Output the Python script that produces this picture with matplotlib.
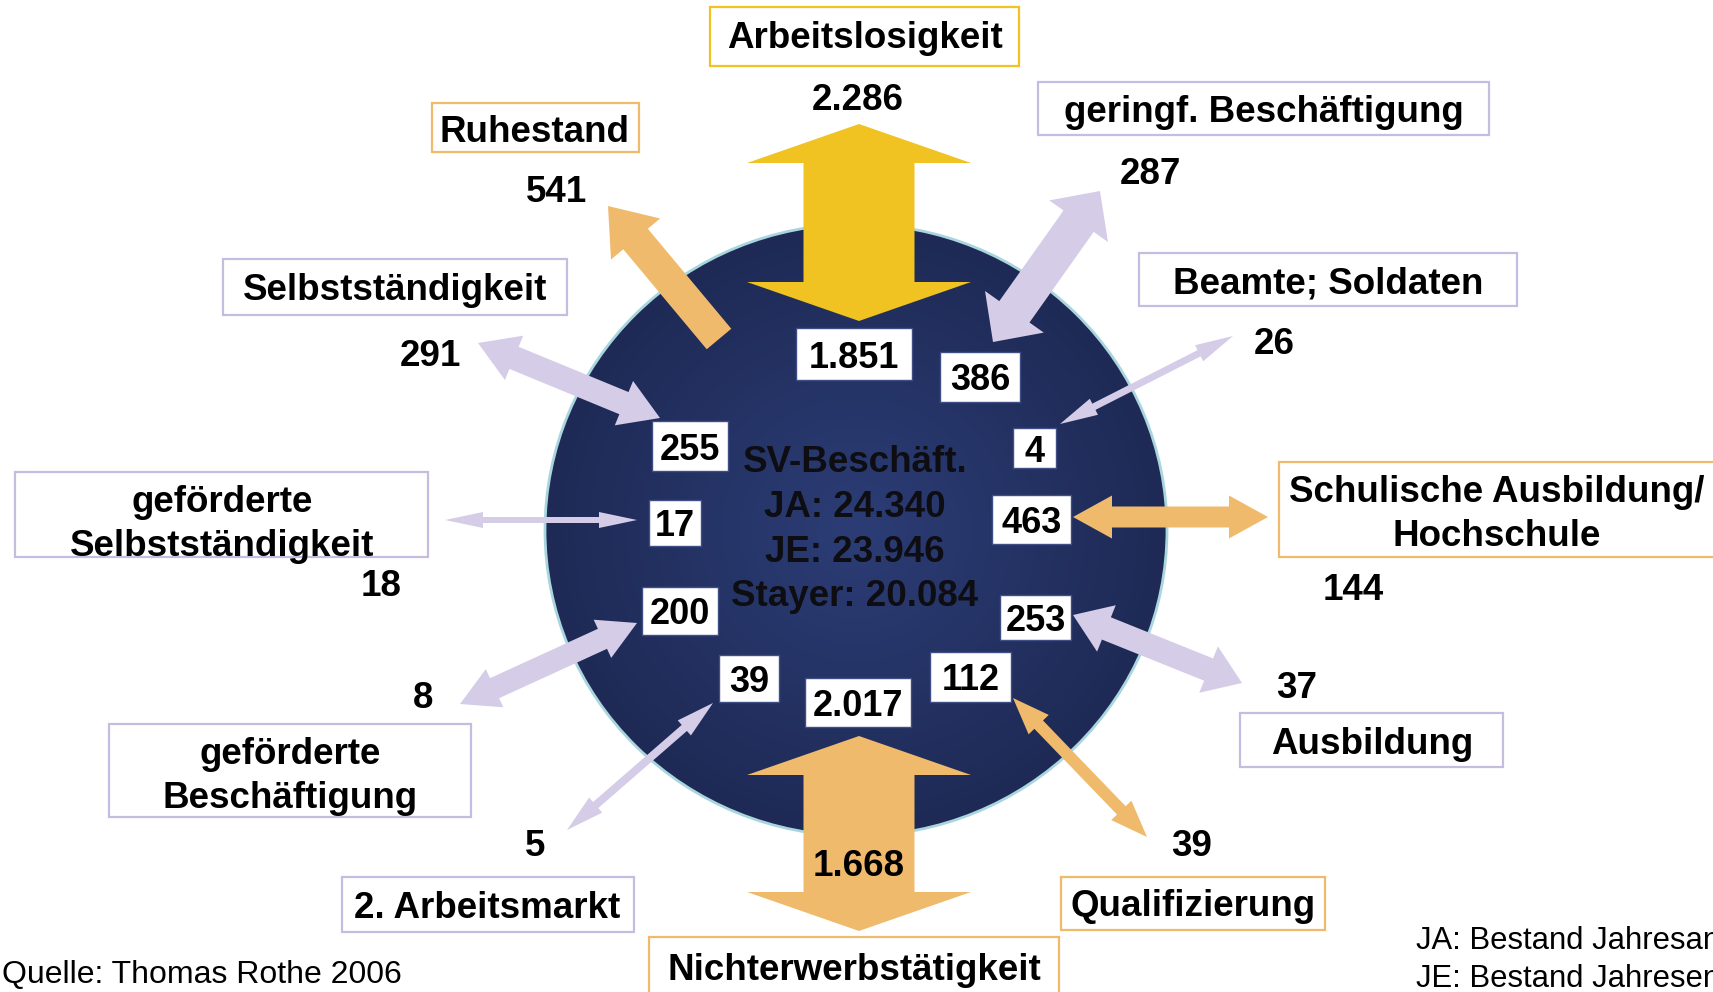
import numpy as np
import matplotlib
matplotlib.use("Agg")
import matplotlib.pyplot as plt
from matplotlib.patches import Polygon, Rectangle, Ellipse
from matplotlib.colors import LinearSegmentedColormap

plt.rcParams['font.family'] = ['Liberation Sans', 'DejaVu Sans']

# --- data: flows into (inner) and out of (outer) SV employment ---
categories = ["Arbeitslosigkeit", "Ruhestand", "geringf. Beschäftigung",
              "Selbstständigkeit", "Beamte; Soldaten",
              "geförderte\nSelbstständigkeit",
              "Schulische Ausbildung/\nHochschule",
              "geförderte\nBeschäftigung", "Ausbildung", "2. Arbeitsmarkt",
              "Qualifizierung", "Nichterwerbstätigkeit"]
inflow = [1851, None, 386, 255, 4, 17, 463, 200, 253, 39, 112, 2017]
outflow = [2286, 541, 287, 291, 26, 18, 144, 8, 37, 5, 39, 1668]
stock_ja = 24340
stock_je = 23946
stayer = 20084
source = "Quelle: Thomas Rothe 2006"
notes = ["JA: Bestand Jahresanfang", "JE: Bestand Jahresende"]

YEL = '#F0C322'
ORA = '#F0BA6C'
LAV = '#D5CCE8'
LAVB = '#C6BCDF'
kind = ['y', 'o', 'l', 'l', 'l', 'l', 'o', 'l', 'l', 'l', 'o', 'o']
fill_col = {'y': YEL, 'o': ORA, 'l': LAV}
edge_col = {'y': YEL, 'o': ORA, 'l': LAVB}

# --- layout (pixel coordinates of the picture) ---
label_box = [(710, 1019, 7, 66), (432, 639, 103, 152), (1038, 1489, 82, 135),
             (223, 567, 259, 315), (1139, 1517, 253, 306), (15, 428, 472, 557),
             (1279, 1730, 462, 557), (109, 471, 724, 817), (1240, 1503, 713, 767),
             (342, 634, 877, 932), (1061, 1325, 877, 930), (649, 1059, 937, 1000)]
label_xy = [(865, 35), (535, 128), (1264, 108), (395, 286), (1328, 280),
            (222, 520), (1497, 510), (290, 773), (1372, 741), (487, 904),
            (1193, 903), (854, 966)]
inner_box = [(796, 912, 328, 380), None, (940, 1020, 352, 402),
             (652, 728, 421, 471), (1013, 1056, 428, 468), (649, 701, 500, 546),
             (992, 1071, 495, 544), (642, 718, 587, 635), (1000, 1071, 595, 640),
             (719, 779, 655, 702), (930, 1011, 652, 702), (805, 911, 678, 727)]
outer_xy = [(858, 97), (557, 189), (1150, 170), (430, 352), (1274, 341),
            (381, 582), (1353, 587), (423, 694), (1297, 684), (535, 843),
            (1192, 843), (859, 862)]
# tail, tip, shaft width, head width, head length, double headed
arrows = [((859, 321), (859, 124), 111, 224, 39, True),
          ((719, 339), (608, 206), 32, 64, 43, False),
          ((993, 342), (1100, 191), 37, 72, 37, True),
          ((660, 418), (478, 343), 24, 48, 39, True),
          ((1060, 424), (1233, 336), 7, 18, 38, True),
          ((637, 520), (445, 520), 6, 16, 38, True),
          ((1073, 517), (1268, 517), 21, 43, 39, True),
          ((637, 623), (460, 704), 22, 42, 38, True),
          ((1073, 615), (1242, 683), 24, 50, 36, True),
          ((713, 703), (567, 830), 8, 20, 38, True),
          ((1013, 698), (1147, 837), 12, 28, 37, True),
          ((859, 736), (859, 931), 111, 224, 39, True)]

DY = 4        # va='center' sits a bit high for bold caps/digits
LINE = 44     # line pitch of two-line labels


def fmt(v):
    return f"{v:,}".replace(",", ".")


def block_arrow(p0, p1, w, hw, hl, double):
    p0 = np.array(p0, float)
    p1 = np.array(p1, float)
    u = (p1 - p0) / np.linalg.norm(p1 - p0)
    n = np.array([-u[1], u[0]])
    b1 = p1 - u * hl
    if double:
        b0 = p0 + u * hl
        pts = [b0 + n * w / 2, b1 + n * w / 2, b1 + n * hw / 2, p1,
               b1 - n * hw / 2, b1 - n * w / 2, b0 - n * w / 2,
               b0 - n * hw / 2, p0, b0 + n * hw / 2]
    else:
        pts = [p0 + n * w / 2, b1 + n * w / 2, b1 + n * hw / 2, p1,
               b1 - n * hw / 2, b1 - n * w / 2, p0 - n * w / 2]
    return np.array(pts)


fig = plt.figure(figsize=(17.13, 9.92), dpi=100)
ax = fig.add_axes([0, 0, 1, 1])
ax.set_xlim(0, 1713)
ax.set_ylim(992, 0)
ax.axis('off')

# circle with radial gradient
cx, cy, rw, rh = 856, 530, 311, 306
gx, gy = np.meshgrid(np.linspace(-1, 1, 400), np.linspace(-1, 1, 400))
r = np.clip(np.sqrt(gx ** 2 + gy ** 2), 0, 1)
cmap = LinearSegmentedColormap.from_list('navy', ['#2C3D76', '#1E2A55'])
img = ax.imshow(r, cmap=cmap, extent=(cx - rw, cx + rw, cy + rh, cy - rh),
                zorder=1, interpolation='bilinear')
circ = Ellipse((cx, cy), 2 * rw, 2 * rh, facecolor='none',
               edgecolor='#A9D6DE', lw=2, zorder=2)
ax.add_patch(circ)
img.set_clip_path(circ)

# arrows
for i, (p0, p1, w, hw, hl, dbl) in enumerate(arrows):
    ax.add_patch(Polygon(block_arrow(p0, p1, w, hw, hl, dbl), closed=True,
                         facecolor=fill_col[kind[i]], edgecolor='none', zorder=3))

fs = 26.5
# label boxes
for i, name in enumerate(categories):
    x0, x1, y0, y1 = label_box[i]
    ax.add_patch(Rectangle((x0, y0), x1 - x0, y1 - y0, facecolor='white',
                           edgecolor=edge_col[kind[i]], lw=1.6, zorder=4))
    lines = name.split('\n')
    top = label_xy[i][1] - (len(lines) - 1) * LINE / 2
    for k, line in enumerate(lines):
        ax.text(label_xy[i][0], top + k * LINE + DY, line, ha='center',
                va='center', fontsize=fs, fontweight='bold', zorder=6)

# inner value boxes
for i, v in enumerate(inflow):
    if v is None:
        continue
    x0, x1, y0, y1 = inner_box[i]
    ax.add_patch(Rectangle((x0, y0), x1 - x0, y1 - y0, facecolor='white',
                           edgecolor='#3F4F86', lw=1.0, zorder=4))
    ax.text((x0 + x1) / 2, (y0 + y1) / 2 + DY, fmt(v), ha='center',
            va='center', fontsize=fs - 0.5, fontweight='bold', zorder=6)

# outer values
for i, v in enumerate(outflow):
    ax.text(outer_xy[i][0], outer_xy[i][1] + DY, fmt(v), ha='center',
            va='center', fontsize=fs, fontweight='bold', zorder=6)

# centre text
centre = ["SV-Beschäft.", f"JA: {fmt(stock_ja)}", f"JE: {fmt(stock_je)}",
          f"Stayer: {fmt(stayer)}"]
for k, line in enumerate(centre):
    ax.text(855, 459 + k * 44.5 + DY, line, ha='center', va='center',
            fontsize=fs, fontweight='bold', color='#0D0D12', zorder=6)

ax.text(2, 971 + DY, source, ha='left', va='center', fontsize=23, zorder=6)
# the legend notes run past the right edge, as in the original slide
ax.text(1416, 937 + DY, notes[0], ha='left', va='center', fontsize=22.3, zorder=6)
ax.text(1416, 975 + DY, notes[1], ha='left', va='center', fontsize=22.3, zorder=6)

fig.savefig('out.png', dpi=100)
